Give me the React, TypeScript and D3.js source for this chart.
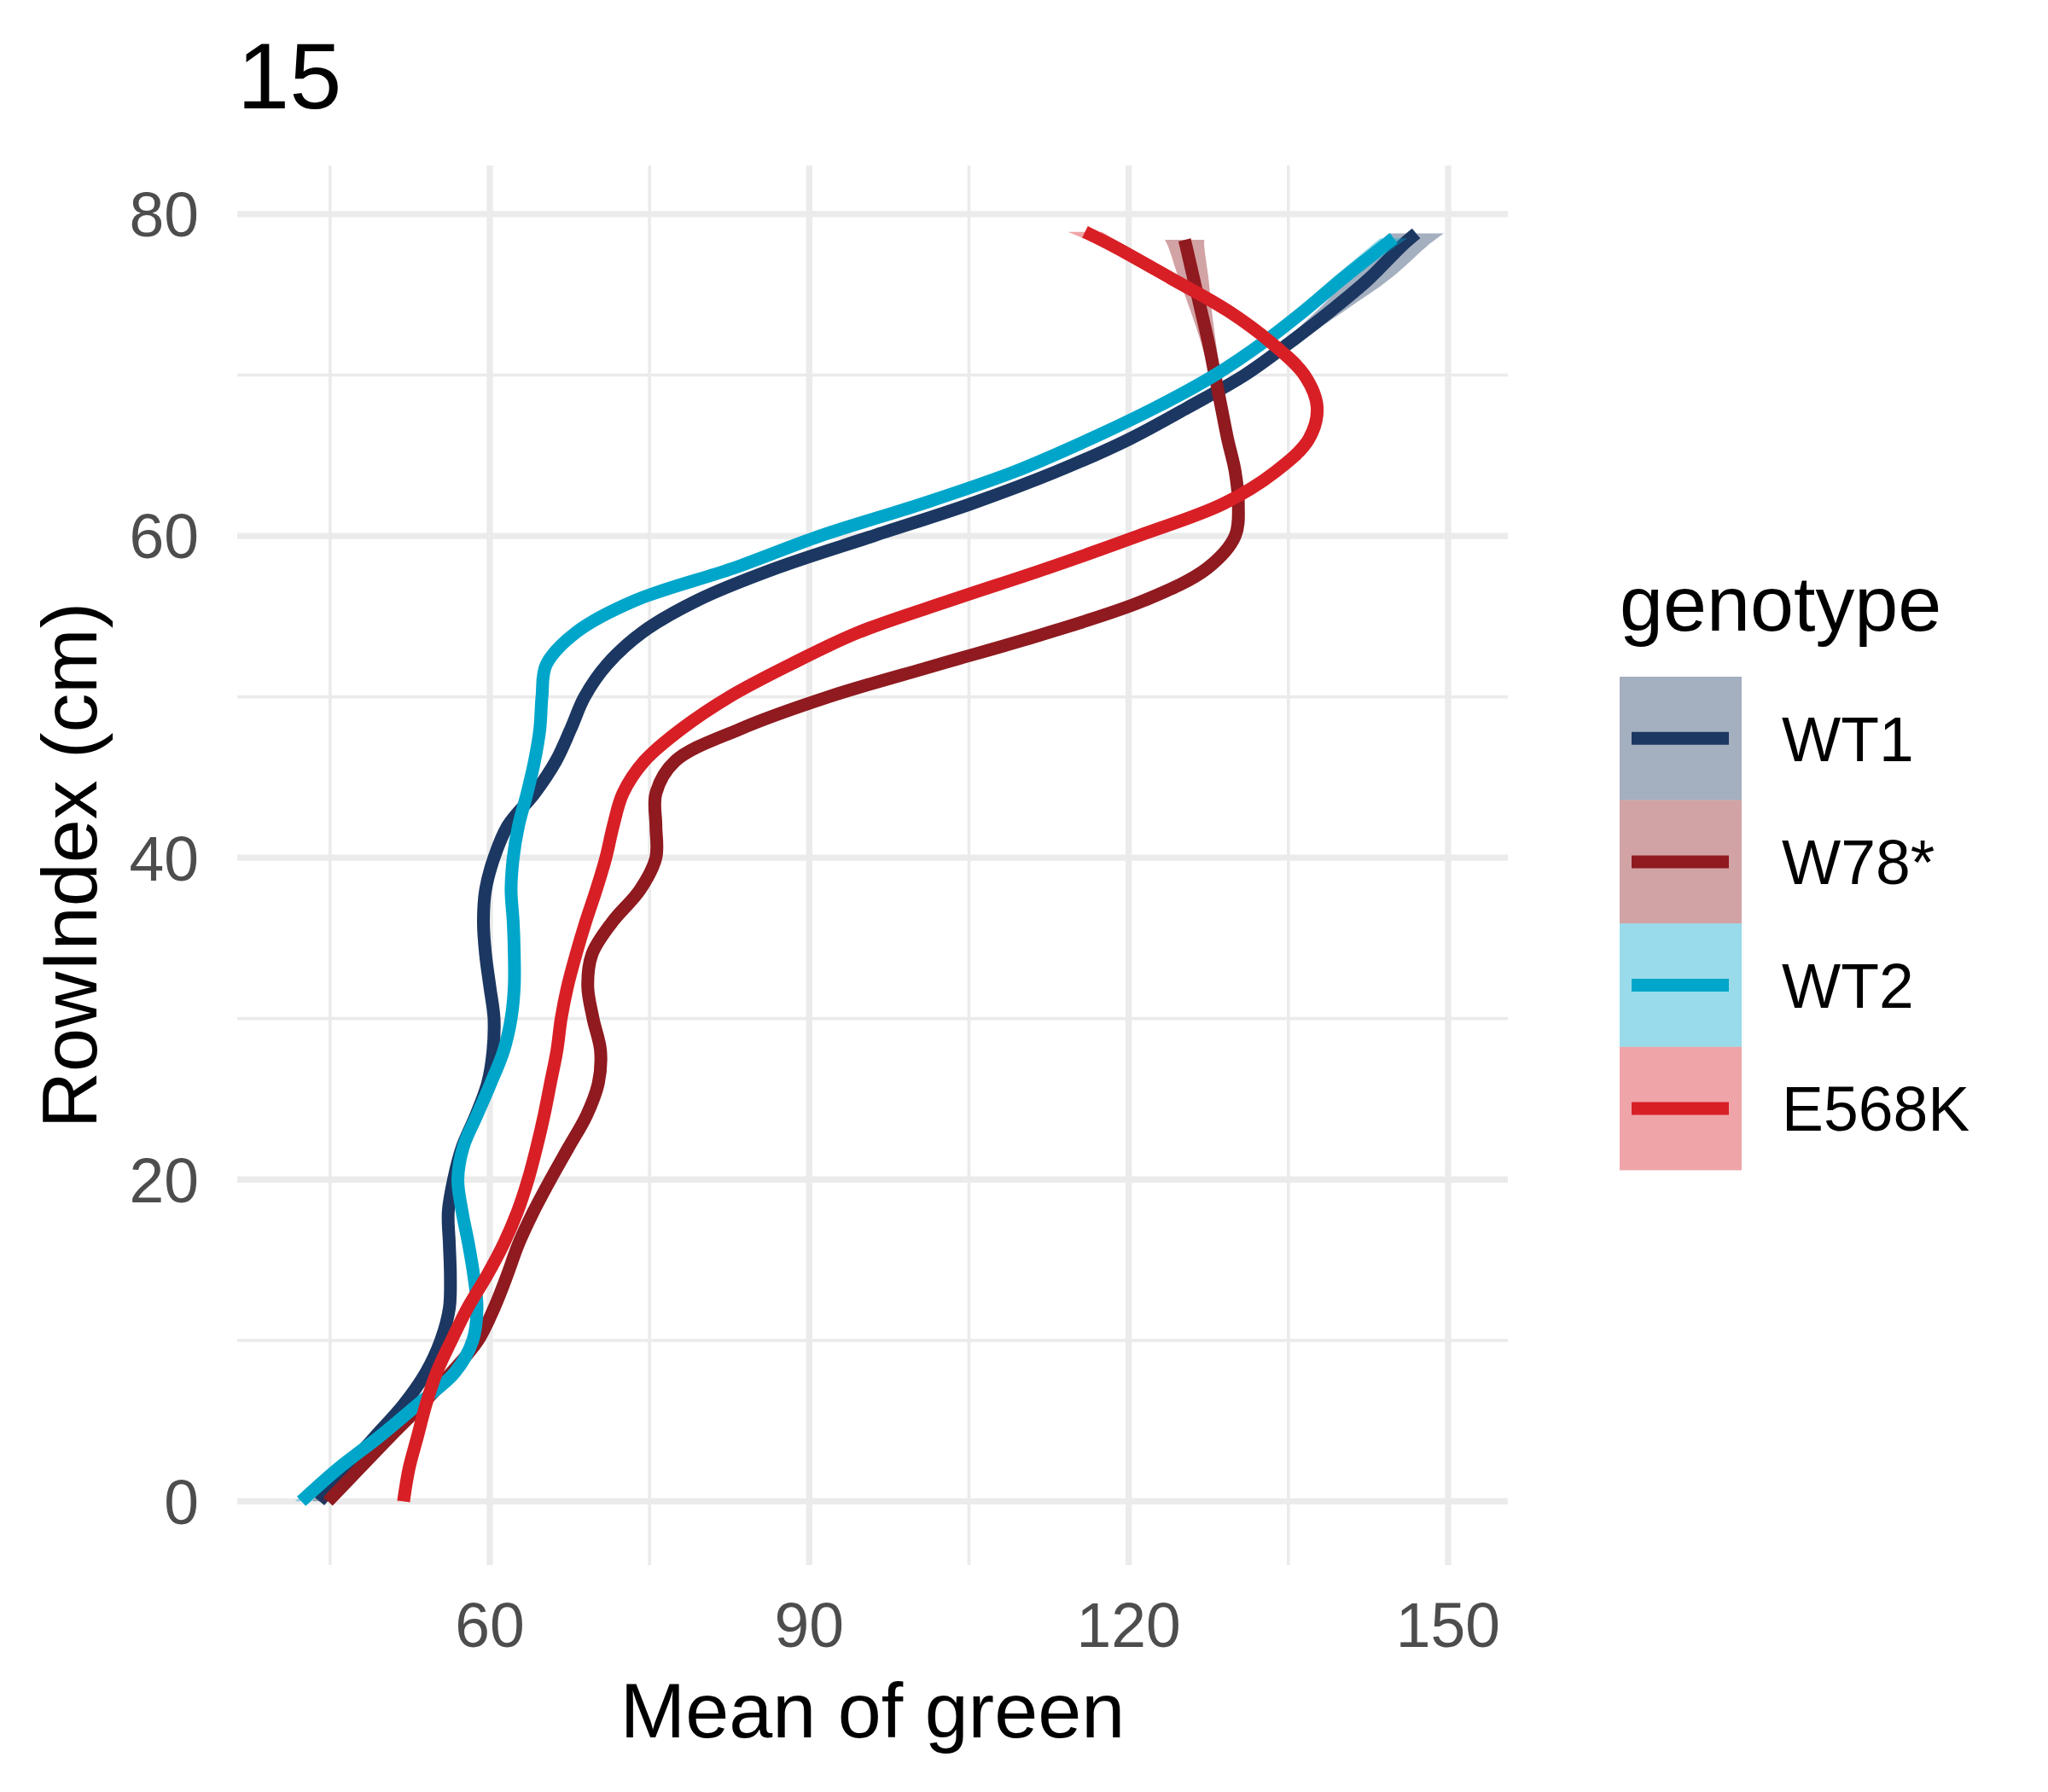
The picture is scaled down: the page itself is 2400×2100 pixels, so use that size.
import React from 'react';
import * as d3 from 'd3';

const rowIndex = [
  0, 2, 4, 6, 8, 10, 12, 14, 16, 18, 20, 22, 24, 26, 28, 30, 32, 34, 36, 38,
  40, 42, 44, 46, 48, 50, 52, 54, 56, 58, 60, 62, 64, 66, 68, 70, 72, 74, 76, 78,
];

const genotypes = ['WT1', 'W78*', 'WT2', 'E568K'];
const lineColors = ['#1C3761', '#8F1A1F', '#00A6CA', '#D81F26'];

// mean of green along the fitted curve, one value per rowIndex
const wt1Green = [
  44.0, 46.5, 49.2, 51.9, 54.0, 55.4, 56.2, 56.3, 56.2, 56.1,
  56.6, 57.4, 58.7, 59.8, 60.3, 60.4, 60.0, 59.6, 59.4, 59.6,
  60.4, 61.7, 64.2, 66.2, 67.6, 68.9, 71.0, 74.3, 79.5, 86.9,
  96.0, 105.2, 113.2, 120.0, 125.6, 130.9, 135.1, 139.0, 142.6, 145.6,
];
const w78Green = [
  44.8, 47.7, 50.6, 53.6, 56.4, 58.9, 60.4, 61.6, 62.7, 64.1,
  65.7, 67.4, 69.1, 70.2, 70.4, 69.7, 69.2, 69.6, 71.5, 74.1,
  75.6, 75.6, 75.6, 77.4, 83.5, 91.8, 102.1, 112.5, 121.5, 127.4,
  130.0, 130.3, 130.0, 129.3, 128.7, 128.1, 127.5, 126.8, 126.1, 125.4,
];
const wt2Green = [
  42.3, 45.7, 49.6, 53.2, 56.7, 58.4, 58.8, 58.5, 58.0, 57.4,
  57.0, 57.5, 58.8, 60.1, 61.3, 62.0, 62.3, 62.3, 62.2, 62.0,
  62.2, 62.7, 63.5, 64.2, 64.7, 64.9, 65.3, 68.1, 73.7, 82.9,
  91.0, 100.6, 109.3, 116.3, 122.6, 128.1, 132.6, 136.5, 140.1, 143.9,
];
const e568kGreen = [
  51.9, 52.4, 53.2, 54.0, 55.0, 56.4, 57.9, 59.7, 61.3, 62.6,
  63.6, 64.4, 65.1, 65.7, 66.3, 66.7, 67.3, 68.1, 69.0, 70.0,
  70.9, 71.6, 72.5, 74.5, 78.0, 82.5, 88.2, 94.6, 103.3, 112.4,
  120.9, 128.9, 133.8, 136.9, 137.7, 136.5, 133.4, 129.3, 124.0, 118.6,
];

// half width of the confidence band at each rowIndex
const wt1Ci = [
  0.7, 0.5, 0.4, 0.4, 0.4, 0.4, 0.4, 0.4, 0.4, 0.4,
  0.4, 0.4, 0.4, 0.4, 0.4, 0.4, 0.4, 0.4, 0.4, 0.4,
  0.4, 0.4, 0.4, 0.4, 0.4, 0.4, 0.4, 0.4, 0.4, 0.4,
  0.4, 0.4, 0.4, 0.4, 0.5, 0.6, 0.8, 1.3, 2.0, 2.4,
];
const w78Ci = [
  0.6, 0.5, 0.4, 0.4, 0.4, 0.4, 0.4, 0.4, 0.4, 0.4,
  0.4, 0.4, 0.4, 0.4, 0.4, 0.4, 0.4, 0.4, 0.4, 0.4,
  0.4, 0.4, 0.4, 0.4, 0.4, 0.4, 0.4, 0.4, 0.4, 0.4,
  0.4, 0.4, 0.4, 0.4, 0.4, 0.5, 0.7, 1.0, 1.4, 1.7,
];
const wt2Ci = [
  0.6, 0.5, 0.4, 0.4, 0.4, 0.4, 0.4, 0.4, 0.4, 0.4,
  0.4, 0.4, 0.4, 0.4, 0.4, 0.4, 0.4, 0.4, 0.4, 0.4,
  0.4, 0.4, 0.4, 0.4, 0.4, 0.4, 0.4, 0.4, 0.4, 0.4,
  0.4, 0.4, 0.4, 0.4, 0.4, 0.5, 0.6, 0.8, 1.0, 1.2,
];
const e568kCi = [
  0.6, 0.5, 0.4, 0.4, 0.4, 0.4, 0.4, 0.4, 0.4, 0.4,
  0.4, 0.4, 0.4, 0.4, 0.4, 0.4, 0.4, 0.4, 0.4, 0.4,
  0.4, 0.4, 0.4, 0.4, 0.4, 0.4, 0.4, 0.4, 0.4, 0.4,
  0.4, 0.4, 0.4, 0.4, 0.4, 0.4, 0.5, 0.7, 0.9, 1.2,
];

// the fits stop at slightly different heights
const endRow = [78.8, 78.4, 78.5, 78.9];
const endGreen = [147.0, 125.25, 144.9, 115.9];
const endCi = [2.6, 1.85, 1.3, 1.6];

const xTicks = [60, 90, 120, 150];
const xMinorTicks = [45, 75, 105, 135];
const yTicks = [0, 20, 40, 60, 80];
const yMinorTicks = [10, 30, 50, 70];

const WIDTH = 2400;
const HEIGHT = 2100;
const FONT = '"Liberation Sans", Arial, Helvetica, sans-serif';

const panel = { left: 278, right: 1767, top: 194, bottom: 1834 };

export default function App() {
  const x = d3.scaleLinear().domain([36.28, 155.61]).range([panel.left, panel.right]);
  const y = d3.scaleLinear().domain([-3.96, 83.02]).range([panel.bottom, panel.top]);

  const greens = [wt1Green, w78Green, wt2Green, e568kGreen];
  const cis = [wt1Ci, w78Ci, wt2Ci, e568kCi];

  const series = genotypes.map((name, i) => {
    const pts = rowIndex.map((r, j) => ({ row: r, green: greens[i][j], ci: cis[i][j] }));
    pts.push({ row: endRow[i], green: endGreen[i], ci: endCi[i] });
    return { name, color: lineColors[i], pts };
  });

  const curve = d3.curveCatmullRom.alpha(0.5);

  const line = d3
    .line<{ row: number; green: number; ci: number }>()
    .x(d => x(d.green))
    .y(d => y(d.row))
    .curve(curve);

  const band = d3
    .area<{ row: number; green: number; ci: number }>()
    .y(d => y(d.row))
    .x0(d => x(d.green - d.ci))
    .x1(d => x(d.green + d.ci))
    .curve(curve);

  // legend
  const legendX = 1898;
  const keyTop = 793;
  const keySize = 144.6;
  const keyW = 143;

  return (
    <svg
      width={WIDTH}
      height={HEIGHT}
      viewBox={`0 0 ${WIDTH} ${HEIGHT}`}
      style={{ position: 'absolute', left: 0, top: 0, background: '#fff', fontFamily: FONT }}
    >
      <rect x={0} y={0} width={WIDTH} height={HEIGHT} fill="#fff" />

      {/* grid */}
      <g stroke="#EBEBEB" fill="none">
        {xMinorTicks.map(t => (
          <line key={`xm${t}`} x1={x(t)} x2={x(t)} y1={panel.top} y2={panel.bottom} strokeWidth={3.7} />
        ))}
        {yMinorTicks.map(t => (
          <line key={`ym${t}`} x1={panel.left} x2={panel.right} y1={y(t)} y2={y(t)} strokeWidth={3.7} />
        ))}
        {xTicks.map(t => (
          <line key={`x${t}`} x1={x(t)} x2={x(t)} y1={panel.top} y2={panel.bottom} strokeWidth={7.3} />
        ))}
        {yTicks.map(t => (
          <line key={`y${t}`} x1={panel.left} x2={panel.right} y1={y(t)} y2={y(t)} strokeWidth={7.3} />
        ))}
      </g>

      {/* smooths: band then line, per genotype */}
      {series.map(s => (
        <g key={s.name}>
          <path d={band(s.pts) || ''} fill={s.color} fillOpacity={0.4} stroke="none" />
          <path d={line(s.pts) || ''} fill="none" stroke={s.color} strokeWidth={15} strokeLinecap="butt" strokeLinejoin="round" />
        </g>
      ))}

      {/* axis tick labels */}
      <g fill="#4D4D4D" fontSize={73.3}>
        {yTicks.map(t => (
          <text key={`yl${t}`} x={233} y={y(t)} dy="0.36em" textAnchor="end">
            {t}
          </text>
        ))}
        {xTicks.map(t => (
          <text key={`xl${t}`} x={x(t)} y={1930} textAnchor="middle">
            {t}
          </text>
        ))}
      </g>

      {/* axis titles */}
      <text x={(panel.left + panel.right) / 2} y={2036} textAnchor="middle" fontSize={91.7} fill="#000">
        Mean of green
      </text>
      <text
        transform={`translate(113,${(panel.top + panel.bottom) / 2}) rotate(-90)`}
        textAnchor="middle"
        fontSize={91.7}
        fill="#000"
      >
        RowIndex (cm)
      </text>

      {/* plot title */}
      <text x={278} y={127} fontSize={110} fill="#000">
        15
      </text>

      {/* legend */}
      <text x={legendX} y={739} fontSize={91.7} fill="#000">
        genotype
      </text>
      {series.map((s, i) => {
        const cy = keyTop + keySize * i + keySize / 2;
        return (
          <g key={`lg${s.name}`}>
            <rect x={legendX} y={keyTop + keySize * i} width={keyW} height={keySize} fill={s.color} fillOpacity={0.4} />
            <line x1={legendX + 14} x2={legendX + 128} y1={cy} y2={cy} stroke={s.color} strokeWidth={15} />
            <text x={2088} y={cy} dy="0.36em" fontSize={73.3} fill="#000">
              {s.name}
            </text>
          </g>
        );
      })}
    </svg>
  );
}
